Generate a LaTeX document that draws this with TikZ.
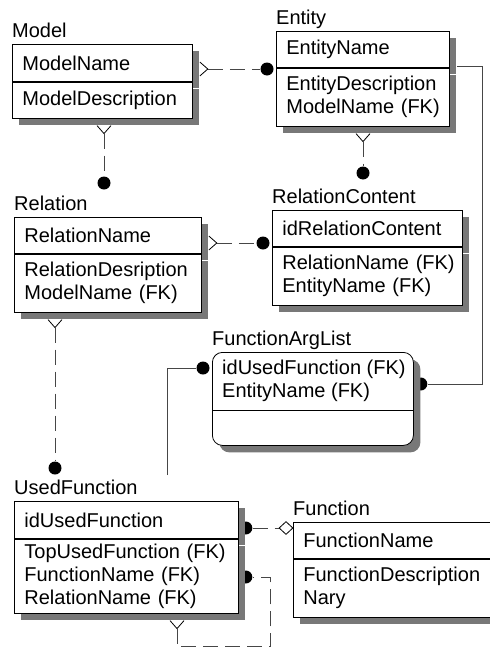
\documentclass[tikz,border=0pt]{standalone}
\usepackage{fontspec}
\setmainfont{Liberation Sans}
\usetikzlibrary{shapes.geometric,positioning,calc,backgrounds,shadows}
\definecolor{shadowgray}{RGB}{120,120,120}
\definecolor{linegray}{RGB}{70,70,70}

\begin{document}
\begin{tikzpicture}[x=1pt,y=-1pt,
  font=\fontsize{20}{23}\selectfont,
  pk/.style={draw,fill=white,rectangle,anchor=north west,align=left,
             inner xsep=10pt,inner ysep=0pt,line width=0.8pt,
             drop shadow={shadow xshift=7pt,shadow yshift=-7pt,fill=shadowgray,opacity=1}},
  attr/.style={pk,anchor=north},
  tname/.style={anchor=base west,inner sep=0pt},
  fld/.style={anchor=west,inner sep=0pt,align=left},
  fkdot/.style={circle,fill=black,inner sep=0pt,minimum size=13pt},
  nullmark/.style={diamond,draw=black,fill=white,line width=0.8pt,inner sep=0pt,
                   minimum width=14pt,minimum height=13pt},
  rel/.style={draw=linegray,line width=0.8pt,dash pattern=on 15pt off 7pt},
  solidline/.style={draw=linegray,line width=0.8pt},
  crow/.style={draw=black,line width=0.8pt}
]
  \clip (0,0) rectangle (490,648);

  % Tables
  \node[pk,text width=160pt,minimum height=37pt] (model) at (12,44) {ModelName};
  \node[attr,text width=160pt,minimum height=36pt,below=0pt of model] (model-a) {ModelDescription};
  \node[tname] at ([yshift=7pt]model.north west) {Model};

  \node[pk,text width=153pt,minimum height=36pt] (entity) at (276,31) {EntityName};
  \node[attr,text width=153pt,minimum height=58pt,below=0pt of entity] (entity-a)
    {EntityDescription\\ModelName~(FK)};
  \node[tname] at ([yshift=7pt]entity.north west) {Entity};

  \node[pk,text width=167pt,minimum height=36pt] (relation) at (14,217) {RelationName};
  \node[attr,text width=167pt,minimum height=58pt,below=0pt of relation] (relation-a)
    {RelationDesription\\ModelName~(FK)};
  \node[tname] at ([yshift=7pt]relation.north west) {Relation};

  \node[pk,text width=170pt,minimum height=36pt] (rc) at (272,210) {idRelationContent};
  \node[attr,text width=170pt,minimum height=58pt,below=0pt of rc] (rc-a)
    {RelationName~(FK)\\EntityName~(FK)};
  \node[tname] at ([yshift=7pt]rc.north west) {RelationContent};

  \node[pk,rounded corners=10pt,minimum width=201pt,minimum height=93pt] (fal) at (212,352) {};
  \node[fld] (fal-k) at ($(fal.north west)+(10,29)$) {idUsedFunction (FK)\\EntityName (FK)};
  \draw[line width=0.8pt] ($(fal.north west)+(0,58)$) -- ($(fal.north east)+(0,58)$);
  \node[tname] at ([yshift=7pt]fal.north west) {FunctionArgList};

  \node[pk,text width=204pt,minimum height=37pt] (uf) at (14,501) {idUsedFunction};
  \node[attr,text width=204pt,minimum height=74pt,below=0pt of uf] (uf-a)
    {TopUsedFunction~(FK)\\FunctionName~(FK)\\RelationName~(FK)};
  \node[tname] at ([yshift=7pt]uf.north west) {UsedFunction};

  \node[pk,text width=200pt,minimum height=36pt] (function) at (293,522) {FunctionName};
  \node[attr,text width=200pt,minimum height=58pt,below=0pt of function] (function-a)
    {FunctionDescription\\Nary};
  \node[tname] at ([yshift=7pt]function.north west) {Function};

  % Relationships (behind the shadows)
  \begin{scope}[on background layer]
    % Model -- Entity
    \node[fkdot] (e-dot) at ($(entity.north west)+(-9,38)$) {};
    \draw[crow] ($(model.north east)+(7,25)$) ++(0,-7) -- ++(8,7) coordinate (m-rv) -- ++(-8,7);
    \draw[rel] (m-rv) -- (e-dot);

    % Model -- Relation
    \node[fkdot] (r-dot) at ($(relation.north west)+(90,-34)$) {};
    \draw[crow] ($(model-a.south west)+(92,7)$) ++(-7,0) -- ++(7,8) coordinate (m-bv) -- ++(7,-8);
    \draw[rel] (m-bv) -- (r-dot);

    % Entity -- RelationContent
    \node[fkdot] (rc-tdot) at ($(rc.north west)+(91,-37)$) {};
    \draw[crow] ($(entity-a.south west)+(87,7)$) ++(-7,0) -- ++(7,8) coordinate (e-bv) -- ++(7,-8);
    \draw[rel] (e-bv) -- (rc-tdot);

    % Relation -- RelationContent
    \node[fkdot] (rc-ldot) at ($(rc.north west)+(-9,33)$) {};
    \draw[crow] ($(relation.north east)+(7,26)$) ++(0,-7) -- ++(8,7) coordinate (r-rv) -- ++(-8,7);
    \draw[rel] (r-rv) -- (rc-ldot);

    % Relation -- UsedFunction
    \node[fkdot] (uf-tdot) at ($(uf.north west)+(41,-33)$) {};
    \draw[crow] ($(relation-a.south west)+(41,7)$) ++(-7,0) -- ++(7,8) coordinate (r-bv) -- ++(7,-8);
    \draw[rel] (r-bv) -- (uf-tdot);

    % Entity -- FunctionArgList
    \coordinate (e-out) at ($(entity.north east)+(7,35)$);
    \node[fkdot] (fal-rdot) at ($(fal.north east)+(7,32)$) {};
    \draw[solidline] (e-out) -- ++(26,0) |- (fal-rdot);

    % UsedFunction -- FunctionArgList
    \coordinate (uf-up) at ($(uf.north west)+(153,-26)$);
    \node[fkdot] (fal-ldot) at ($(fal.north west)+(-9,16)$) {};
    \draw[solidline] (uf-up) |- (fal-ldot);

    % UsedFunction -- Function
    \node[fkdot] (uf-rdot1) at ($(uf.north east)+(7,27)$) {};
    \coordinate (fn-in) at ($(function.north west)+(-7,6)$);
    \draw[rel] (uf-rdot1) -- (fn-in);

    % UsedFunction -- UsedFunction (TopUsedFunction)
    \node[fkdot] (uf-rdot2) at ($(uf.north east)+(7,76)$) {};
    \draw[crow] ($(uf-a.south west)+(163,7)$) ++(-7,0) -- ++(7,8) coordinate (uf-bv) -- ++(7,-8);
    \draw[rel] (uf-bv) -- ++(0,18) -| ($(uf-rdot2)+(25,0)$) -- (uf-rdot2);
  \end{scope}

  \node[nullmark] (fn-dia) at (fn-in) {};
\end{tikzpicture}
\end{document}
